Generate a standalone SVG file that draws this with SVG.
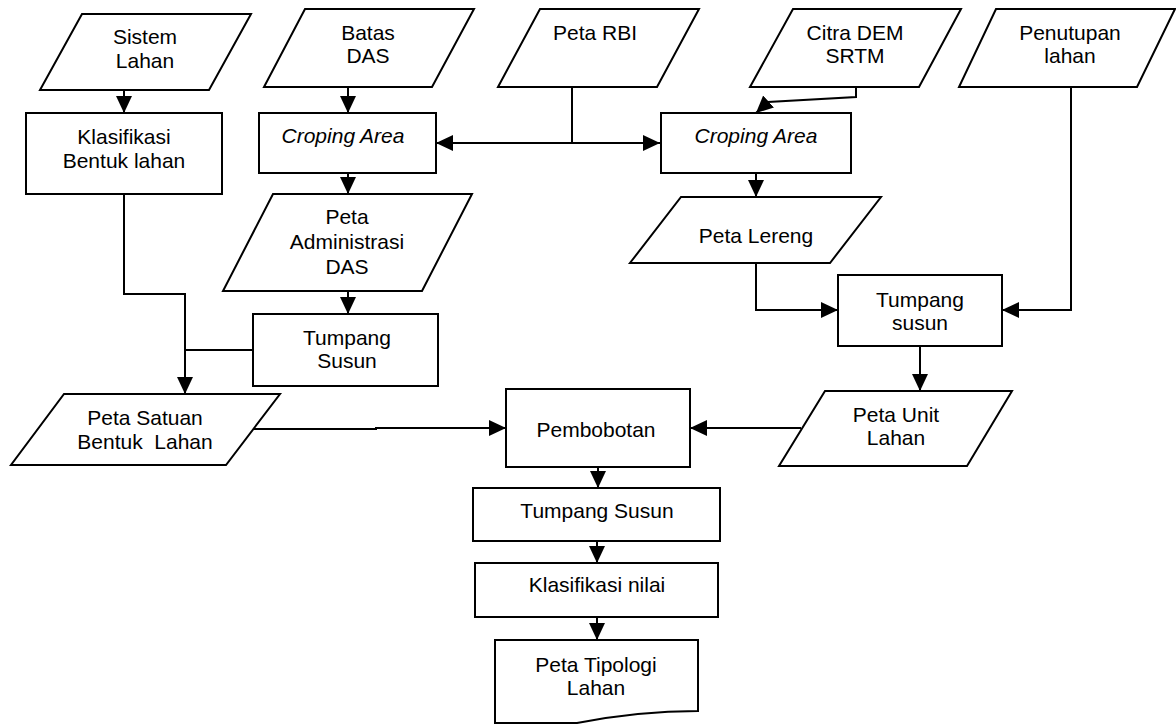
<svg xmlns="http://www.w3.org/2000/svg" width="1176" height="724" viewBox="0 0 1176 724">
<style>
.s{fill:#fff;stroke:#000;stroke-width:2}
.c{fill:none;stroke:#000;stroke-width:2}
text{font-family:"Liberation Sans",Arial,sans-serif;font-size:21px;fill:#000;text-anchor:middle;white-space:pre}
.i{font-style:italic}
</style>
<defs>
<marker id="ah" markerUnits="userSpaceOnUse" markerWidth="17" markerHeight="17" viewBox="0 0 17 17" refX="17" refY="8.5" orient="auto-start-reverse">
<path d="M0,0.5 L17,8.5 L0,16.5 Z" fill="#000"/>
</marker>
</defs>
<rect width="1176" height="724" fill="#fff"/>
<g id="connectors">
<path class="c" d="M124,90 V113" marker-end="url(#ah)"/>
<path class="c" d="M348,87 V113" marker-end="url(#ah)"/>
<path class="c" d="M572,87 V143"/>
<path class="c" d="M436,143 H660" marker-start="url(#ah)" marker-end="url(#ah)"/>
<path class="c" d="M856,87 V97 L768,102 L756,113" marker-end="url(#ah)"/>
<path class="c" d="M348,173 V194" marker-end="url(#ah)"/>
<path class="c" d="M756,173 V197" marker-end="url(#ah)"/>
<path class="c" d="M348,291 V314" marker-end="url(#ah)"/>
<path class="c" d="M124,194 V294 H185 V394" marker-end="url(#ah)"/>
<path class="c" d="M253,350 H185"/>
<path class="c" d="M756,263 V310 H838" marker-end="url(#ah)"/>
<path class="c" d="M1071,87 V310 H1002" marker-end="url(#ah)"/>
<path class="c" d="M920,346 V391" marker-end="url(#ah)"/>
<path class="c" d="M253,429 H376 V428 H506" marker-end="url(#ah)"/>
<path class="c" d="M801,428 H690" marker-end="url(#ah)"/>
<path class="c" d="M598,467 V488" marker-end="url(#ah)"/>
<path class="c" d="M597,541 V563" marker-end="url(#ah)"/>
<path class="c" d="M597,617 V640" marker-end="url(#ah)"/>
</g>
<g id="sistem-lahan">
<polygon class="s" points="82,14 251,14 209,90 40,90"/>
<text x="145" y="44">Sistem</text>
<text x="145" y="68">Lahan</text>
</g>
<g id="klasifikasi-bentuk-lahan">
<rect class="s" x="26" y="113" width="196" height="81"/>
<text x="124" y="144">Klasifikasi</text>
<text x="124" y="168">Bentuk lahan</text>
</g>
<g id="batas-das">
<polygon class="s" points="305,9 474,9 432,87 264,87"/>
<text x="368" y="40">Batas</text>
<text x="368" y="63">DAS</text>
</g>
<g id="croping-area-1">
<rect class="s" x="259" y="113" width="177" height="60"/>
<text class="i" x="343" y="143">Croping Area</text>
</g>
<g id="peta-rbi">
<polygon class="s" points="540,9 699,9 657,87 498,87"/>
<text x="595" y="40">Peta RBI</text>
</g>
<g id="croping-area-2">
<rect class="s" x="661" y="113" width="190" height="60"/>
<text class="i" x="756" y="143">Croping Area</text>
</g>
<g id="citra-dem-srtm">
<polygon class="s" points="793,9 961,9 919,87 750,87"/>
<text x="855" y="40">Citra DEM</text>
<text x="855" y="63">SRTM</text>
</g>
<g id="penutupan-lahan">
<polygon class="s" points="996,9 1175,9 1137,87 959,87"/>
<text x="1070" y="40">Penutupan</text>
<text x="1070" y="63">lahan</text>
</g>
<g id="peta-administrasi-das">
<polygon class="s" points="273,194 472,194 422,291 223,291"/>
<text x="347" y="224">Peta</text>
<text x="347" y="249">Administrasi</text>
<text x="347" y="274">DAS</text>
</g>
<g id="tumpang-susun-1">
<rect class="s" x="253" y="314" width="185" height="72"/>
<text x="347" y="345">Tumpang</text>
<text x="347" y="368">Susun</text>
</g>
<g id="peta-lereng">
<polygon class="s" points="681,197 881,197 830,263 630,263"/>
<text x="756" y="243">Peta Lereng</text>
</g>
<g id="tumpang-susun-2">
<rect class="s" x="838" y="275" width="164" height="71"/>
<text x="920" y="307">Tumpang</text>
<text x="920" y="330">susun</text>
</g>
<g id="peta-satuan-bentuk-lahan">
<polygon class="s" points="64,394 280,394 226,465 11,465"/>
<text x="145" y="425">Peta Satuan</text>
<text x="145" y="449">Bentuk  Lahan</text>
</g>
<g id="pembobotan">
<rect class="s" x="506" y="389" width="184" height="78"/>
<text x="596" y="437">Pembobotan</text>
</g>
<g id="peta-unit-lahan">
<polygon class="s" points="825,391 1012,391 967,466 779,466"/>
<text x="896" y="422">Peta Unit</text>
<text x="896" y="445">Lahan</text>
</g>
<g id="tumpang-susun-3">
<rect class="s" x="473" y="488" width="247" height="53"/>
<text x="597" y="518">Tumpang Susun</text>
</g>
<g id="klasifikasi-nilai">
<rect class="s" x="475" y="563" width="243" height="54"/>
<text x="597" y="592">Klasifikasi nilai</text>
</g>
<g id="peta-tipologi-lahan">
<path class="s" d="M495,640 H698 V711 C660,711 618,715 577,723 H495 Z"/>
<text x="596" y="672">Peta Tipologi</text>
<text x="596" y="695">Lahan</text>
</g>
</svg>
